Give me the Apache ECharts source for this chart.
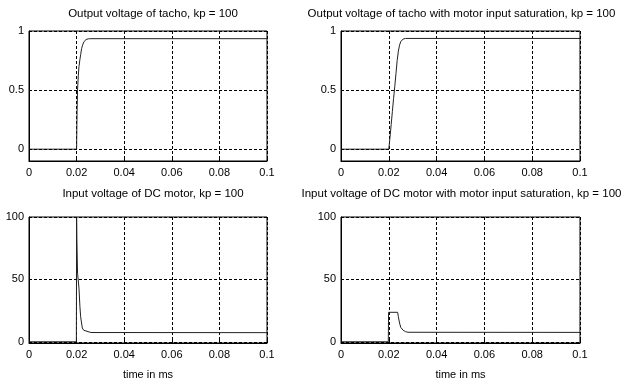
<!DOCTYPE html>
<html>
<head>
<meta charset="utf-8">
<script src="https://cdn.jsdelivr.net/npm/echarts@6/dist/echarts.min.js"></script>
<style>html,body{margin:0;padding:0;background:#fff}#c{width:629px;height:381px}</style>
</head>
<body>
<div id="c"></div>
<script>
var titles = [
  'Output voltage of tacho, kp = 100',
  'Output voltage of tacho with motor input saturation, kp = 100',
  'Input voltage of DC motor, kp = 100',
  'Input voltage of DC motor with motor input saturation, kp = 100'
];
var xTicks = [0, 0.02, 0.04, 0.06, 0.08, 0.1];
var yTicksTop = [0, 0.5, 1];
var yTicksBottom = [0, 50, 100];
var xLabel = 'time in ms';

// Panel 1: tacho output
var tachoT = [0, 0.02, 0.0201, 0.0202, 0.0204, 0.0207, 0.021, 0.0214, 0.0217, 0.0221, 0.0225, 0.0231, 0.024, 0.025, 0.026, 0.1];
var tachoV = [0, 0, 0.18, 0.32, 0.5, 0.62, 0.7, 0.76, 0.8, 0.85, 0.88, 0.91, 0.928, 0.934, 0.935, 0.935];
// Panel 2: tacho output with saturation
var tachoSatT = [0, 0.02, 0.0205, 0.021, 0.0215, 0.022, 0.0225, 0.023, 0.0235, 0.024, 0.0245, 0.025, 0.0255, 0.026, 0.027, 0.1];
var tachoSatV = [0, 0, 0.1, 0.21, 0.32, 0.43, 0.53, 0.64, 0.75, 0.83, 0.88, 0.91, 0.925, 0.932, 0.937, 0.937];
// Panel 3: motor input
var motorT = [0, 0.0199, 0.02, 0.0201, 0.0204, 0.021, 0.0214, 0.0217, 0.0224, 0.023, 0.0238, 0.026, 0.1];
var motorV = [0, 0, 100, 83, 55, 43, 28, 20, 11, 9.2, 8.1, 7.4, 7.3];
// Panel 4: motor input with saturation
var motorSatT = [0, 0.0198, 0.0199, 0.0237, 0.024, 0.0245, 0.025, 0.0255, 0.026, 0.0265, 0.027, 0.028, 0.1];
var motorSatV = [0, 0, 23.6, 23.6, 20, 15, 11.5, 10, 9.2, 8.6, 8.1, 7.6, 7.5];

function zip(a, b) { return a.map(function (v, i) { return [v, b[i]]; }); }

var font = 'Liberation Sans, Arial, sans-serif';
var grids = [
  {left: 29, top: 31, width: 238, height: 130},
  {left: 341, top: 31, width: 239, height: 130},
  {left: 29, top: 217, width: 238, height: 129},
  {left: 341, top: 217, width: 239, height: 129}
];
var yRanges = [[-0.1, 1], [-0.1, 1], [-1, 100], [-1, 100]];
var yTicksAll = [yTicksTop, yTicksTop, yTicksBottom, yTicksBottom];
var dataAll = [zip(tachoT, tachoV), zip(tachoSatT, tachoSatV), zip(motorT, motorV), zip(motorSatT, motorSatV)];

var option = {
  backgroundColor: '#fff',
  animation: false,
  title: [],
  grid: [],
  xAxis: [],
  yAxis: [],
  series: []
};

grids.forEach(function (g, i) {
  option.grid.push({left: g.left, top: g.top, width: g.width, height: g.height, show: true, borderColor: '#000', borderWidth: 1, backgroundColor: 'transparent'});
  option.title.push({
    text: titles[i], left: g.left + g.width / 2 - (i % 2 ? 4 : 0), textAlign: 'center', top: (i < 2 ? 3 : 183),
    textStyle: {fontFamily: font, fontSize: 11.5, fontWeight: 'normal', color: '#000'}
  });
  option.xAxis.push({
    type: 'value', gridIndex: i, min: 0, max: 0.1, interval: 0.02,
    axisLine: {show: true, onZero: false, lineStyle: {color: '#000', width: 1}},
    axisTick: {show: true, inside: true, length: 3, lineStyle: {color: '#000'}},
    axisLabel: {color: '#000', fontFamily: font, fontSize: 11, margin: 6,
      formatter: function (v) { return String(+v.toFixed(2)); }},
    splitLine: {show: true, lineStyle: {color: '#000', type: [3, 2], width: 1}},
    name: i >= 2 ? xLabel : '', nameLocation: 'middle', nameGap: 26,
    nameTextStyle: {color: '#000', fontFamily: font, fontSize: 11}
  });
  option.yAxis.push({
    type: 'value', gridIndex: i, min: yRanges[i][0], max: yRanges[i][1],
    axisLine: {show: true, onZero: false, lineStyle: {color: '#000', width: 1}},
    axisTick: {show: true, inside: true, length: 3, customValues: yTicksAll[i], lineStyle: {color: '#000'}},
    axisLabel: {color: '#000', fontFamily: font, fontSize: 11, margin: 5, customValues: yTicksAll[i],
      formatter: function (v) { return String(+v.toFixed(2)); }},
    splitLine: {show: false}
  });
  option.series.push({
    type: 'line', xAxisIndex: i, yAxisIndex: i, data: dataAll[i],
    showSymbol: false, symbol: 'none', silent: true,
    lineStyle: {color: '#222', width: 1},
    markLine: {
      silent: true, symbol: 'none', label: {show: false},
      lineStyle: {color: '#000', type: [3, 2], width: 1},
      data: yTicksAll[i].map(function (v) { return {yAxis: v}; })
    }
  });
});

var chart = echarts.init(document.getElementById('c'), null, {renderer: 'canvas'});
chart.setOption(option);
</script>
</body>
</html>
